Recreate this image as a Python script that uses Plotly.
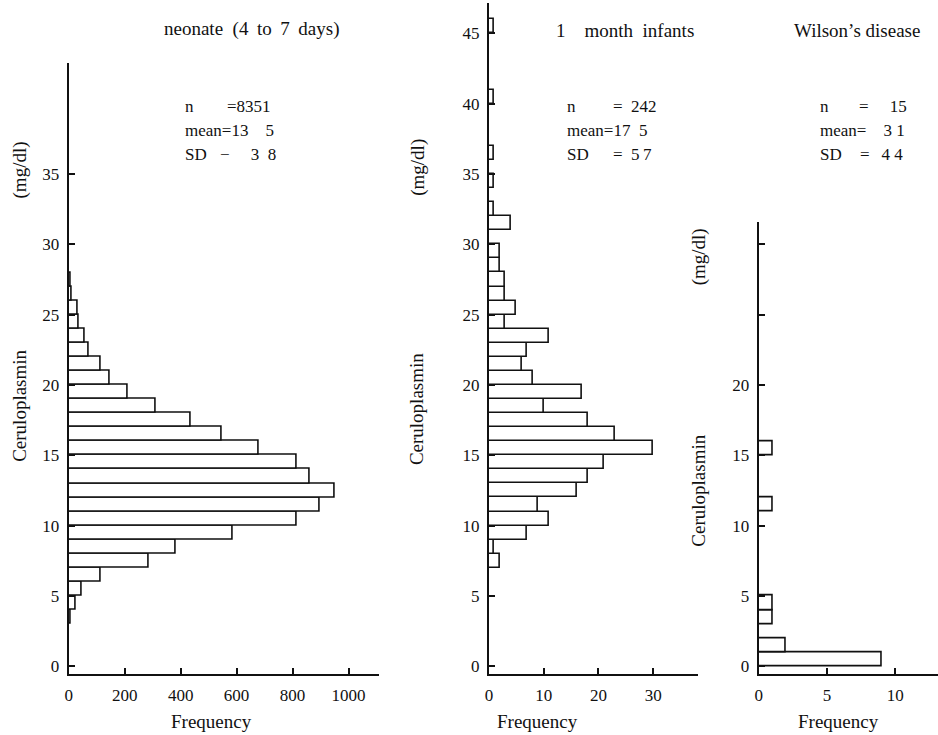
import plotly.graph_objects as go

# ---------------- data ----------------
# neonate (4 to 7 days): lower bound of 1 mg/dl bins and frequencies
neo_bin_start = list(range(3, 28))
neo_freq = [8, 24, 47, 115, 285, 381, 587, 815, 898, 949, 860, 815, 679,
            548, 435, 311, 210, 148, 116, 71, 56, 37, 32, 10, 6]

# 1 month infants
inf_bin_start = [7, 8, 9, 10, 11, 12, 13, 14, 15, 16, 17, 18, 19, 20, 21, 22,
                 23, 24, 25, 26, 27, 28, 29, 31, 32, 34, 36, 40, 45]
inf_freq = [2, 1, 7, 11, 9, 16, 18, 21, 30, 23, 18, 10, 17, 8, 6, 7,
            11, 3, 5, 3, 3, 2, 2, 4, 1, 1, 1, 1, 1]

# Wilson's disease
wil_bin_start = [0, 1, 3, 4, 11, 15]
wil_freq = [9, 2, 1, 1, 1, 1]

panel_titles = ["neonate\u2002(4\u2009 to\u2009 7\u2009 days)",
                "1\u2003month\u2002infants",
                "Wilson\u2019s disease"]
# statistics rows: (label, rest-of-line) — label drawn at block x, rest at its own x
neo_stats = [("n", "=8351"), ("mean=13\u20035", ""), ("SD", "\u2212\u2003 3\u20028")]
inf_stats = [("n", "=\u2002242"), ("mean=17\u20025", ""), ("SD", "=\u20025\u20097")]
wil_stats = [("n", "=\u2003 15"), ("mean=\u20033 1", ""), ("SD", "=\u2002\u20094 4")]

neo_xticks = [0, 200, 400, 600, 800, 1000]
inf_xticks = [0, 10, 20, 30]
wil_xticks = [0, 5, 10]
neo_yticks = [0, 5, 10, 15, 20, 25, 30, 35]
inf_yticks = [0, 5, 10, 15, 20, 25, 30, 35, 40, 45]
wil_yticks = [0, 5, 10, 15, 20, 25, 30]
wil_yticktext = ["0", "5", "10", "15", "20", "", ""]

# ---------------- layout geometry (pixels) ----------------
W, H = 938, 735
Y0_PX = 668.0       # pixel row of value 0
PPU_Y = 14.1        # pixels per mg/dl
BOTTOM_PX = 676.0   # x-axis line row

def xd(px):
    return px / W

def yd(px):
    return 1 - px / H

def yrange(top_px):
    return [(Y0_PX - BOTTOM_PX) / PPU_Y, (Y0_PX - top_px) / PPU_Y]

FONT = "Liberation Serif, Times New Roman, serif"
INK = "#111111"
FS = 17

fig = go.Figure()

def add_bars(starts, freqs, xa, ya):
    fig.add_trace(go.Bar(
        x=freqs, y=[s + 0.5 for s in starts], width=[1] * len(starts),
        orientation="h", xaxis=xa, yaxis=ya,
        marker=dict(color="white", line=dict(color=INK, width=1.6)),
        showlegend=False, hoverinfo="x+y"))

add_bars(neo_bin_start, neo_freq, "x", "y")
add_bars(inf_bin_start, inf_freq, "x2", "y2")
add_bars(wil_bin_start, wil_freq, "x3", "y3")

axis_common = dict(showgrid=False, zeroline=False, showline=True, linecolor=INK,
                   linewidth=2, ticks="inside", ticklen=6, tickwidth=2, tickcolor=INK,
                   ticklabelstandoff=4,
                   tickfont=dict(family=FONT, size=FS, color=INK), fixedrange=True)

# panel pixel boxes: (left, right, top)
p1 = (65, 377, 63)
p2 = (487, 697, 3)
p3 = (758, 938, 223)

fig.update_layout(
    width=W, height=H, margin=dict(l=0, r=0, t=0, b=0),
    paper_bgcolor="white", plot_bgcolor="white", bargap=0,
    font=dict(family=FONT, size=FS, color=INK),
    xaxis=dict(axis_common, domain=[xd(p1[0]), xd(p1[1])],
               range=[0, (p1[1] - p1[0]) / 0.281], tickvals=neo_xticks, anchor="y"),
    yaxis=dict(axis_common, domain=[yd(BOTTOM_PX), yd(p1[2])],
               range=yrange(p1[2]), tickvals=neo_yticks, anchor="x"),
    xaxis2=dict(axis_common, domain=[xd(p2[0]), xd(p2[1])],
                range=[0, (p2[1] - p2[0]) / 5.5], tickvals=inf_xticks, anchor="y2"),
    yaxis2=dict(axis_common, domain=[yd(BOTTOM_PX), yd(p2[2])],
                range=yrange(p2[2]), tickvals=inf_yticks, anchor="x2"),
    xaxis3=dict(axis_common, domain=[xd(p3[0]), xd(p3[1])],
                range=[0, (p3[1] - p3[0]) / 13.7], tickvals=wil_xticks, anchor="y3"),
    yaxis3=dict(axis_common, domain=[yd(BOTTOM_PX), yd(p3[2])],
                range=yrange(p3[2]), tickvals=wil_yticks, ticktext=wil_yticktext, anchor="x3"),
)

ann = []

def text(px, py, s, xanchor="center", angle=0, size=FS):
    ann.append(dict(x=xd(px), y=yd(py), xref="paper", yref="paper", text=s,
                    showarrow=False, xanchor=xanchor, yanchor="middle",
                    textangle=angle, font=dict(family=FONT, size=size, color=INK)))

# panel titles
text(249, 29, panel_titles[0], size=19)
text(552, 31, panel_titles[1], xanchor="left", size=19)
text(857, 31, panel_titles[2], size=19)

# statistics blocks: label x, x of the rest of each row
rows_py = [107, 131, 155]
blocks = [
    (180, [222, None, 215], neo_stats),
    (563, [610, None, 610], inf_stats),
    (817, [857, None, 858], wil_stats),
]
for lx, rest_x, rows in blocks:
    for (lbl, rest), rx, py in zip(rows, rest_x, rows_py):
        text(lx, py, lbl, xanchor="left")
        if rest:
            text(rx, py, rest, xanchor="left")

# axis titles
text(208, 723, "Frequency", size=19)
text(536, 723, "Frequency", size=19)
text(838, 723, "Frequency", size=19)
text(16, 407, "Ceruloplasmin", angle=-90, size=19)
text(16, 170, "(mg/dl)", angle=-90, size=19)
text(415, 410, "Ceruloplasmin", angle=-90, size=19)
text(415, 168, "(mg/dl)", angle=-90, size=19)
text(698, 492, "Ceruloplasmin", angle=-90, size=19)
text(698, 258, "(mg/dl)", angle=-90, size=19)

fig.update_layout(annotations=ann)

fig.write_html("out.html", config={"displayModeBar": False},
               post_script="document.body.style.margin='0';document.body.style.overflow='hidden';")
